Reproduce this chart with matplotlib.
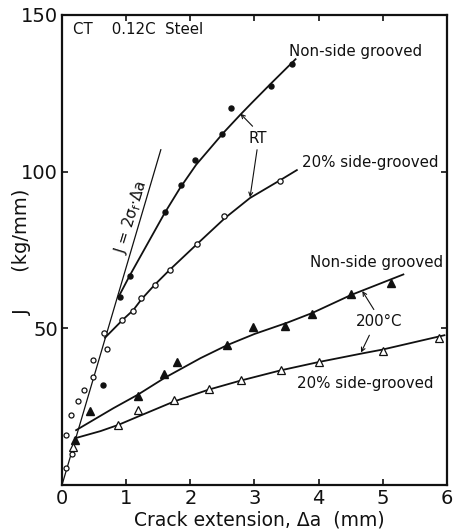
import matplotlib
matplotlib.use("Agg")
import matplotlib.pyplot as plt

plt.rcParams["font.family"] = ["DejaVu Sans"]
INK = "#111111"

# RT, non-side grooved (filled circles)
rt_ns_x = [0.64, 0.90, 1.06, 1.61, 1.85, 2.08, 2.50, 2.64, 3.25, 3.59]
rt_ns_y = [32.0, 60.0, 66.8, 87.0, 95.9, 103.8, 112.0, 120.2, 127.4, 134.5]
rt_ns_fit_x = [0.88, 1.06, 1.60, 1.84, 2.09, 2.52, 2.78, 2.96, 3.25, 3.64]
rt_ns_fit_y = [60.0, 67.0, 86.8, 94.8, 102.2, 112.5, 118.2, 122.0, 128.0, 135.9]

# RT, 20% side grooved (open circles)
rt_sg_x = [0.66, 0.94, 1.11, 1.23, 1.45, 1.68, 2.10, 2.53, 3.40]
rt_sg_y = [48.5, 52.8, 55.4, 59.6, 63.9, 68.7, 76.8, 85.7, 97.1]
rt_sg_fit_x = [0.67, 0.94, 1.11, 1.24, 1.44, 1.68, 2.11, 2.54, 2.93, 3.41, 3.66]
rt_sg_fit_y = [47.0, 52.6, 55.8, 59.3, 63.8, 68.7, 77.0, 85.2, 91.6, 97.4, 100.5]

# blunting-region open circles
blunt_pts_x = [0.07, 0.16, 0.07, 0.14, 0.25, 0.34, 0.48, 0.48, 0.70]
blunt_pts_y = [5.3, 10.0, 16.0, 22.3, 26.8, 30.3, 34.5, 39.8, 43.5]
blunt_line_x = [0.0, 1.54]
blunt_line_y = [0.0, 107.0]

# 200 C, non-side grooved (filled triangles)
h_ns_x = [0.20, 0.44, 1.18, 1.59, 1.79, 2.57, 2.97, 3.48, 3.90, 4.51, 5.12]
h_ns_y = [14.5, 23.6, 28.4, 35.3, 39.1, 44.7, 50.4, 50.6, 54.7, 61.0, 64.6]
h_ns_fit_x = [0.22, 0.80, 1.18, 1.60, 2.16, 2.57, 3.00, 3.51, 3.90, 4.50, 5.32]
h_ns_fit_y = [17.5, 24.5, 28.8, 34.2, 40.5, 44.6, 48.2, 51.8, 54.9, 60.6, 67.2]

# 200 C, 20% side grooved (open triangles)
h_sg_x = [0.17, 0.88, 1.18, 1.74, 2.29, 2.79, 3.41, 4.00, 5.00, 5.87]
h_sg_y = [12.2, 19.3, 23.9, 27.1, 30.5, 33.4, 36.8, 39.1, 42.7, 46.9]
h_sg_fit_x = [0.20, 0.60, 0.88, 1.18, 1.74, 2.28, 2.78, 3.41, 3.99, 4.68, 4.99, 5.96]
h_sg_fit_y = [14.9, 17.2, 19.2, 21.8, 26.6, 30.4, 33.3, 36.6, 39.2, 42.0, 43.2, 47.8]

x_ticks = [0, 1, 2, 3, 4, 5, 6]
y_ticks = [0, 50, 100, 150]
y_tick_labels = ["", "50", "100", "150"]

fig = plt.figure(figsize=(4.56, 5.31), dpi=100)
fig.patch.set_facecolor("white")
ax = fig.add_axes([62 / 456, 46 / 531, 385 / 456, 470 / 531])

lw = 1.3
ax.plot(blunt_line_x, blunt_line_y, color=INK, lw=0.9)
ax.plot(rt_ns_fit_x, rt_ns_fit_y, color=INK, lw=lw)
ax.plot(rt_sg_fit_x, rt_sg_fit_y, color=INK, lw=lw)
ax.plot(h_ns_fit_x, h_ns_fit_y, color=INK, lw=lw)
ax.plot(h_sg_fit_x, h_sg_fit_y, color=INK, lw=lw)

ax.plot(rt_ns_x, rt_ns_y, "o", ms=3.6, color=INK, zorder=4)
ax.plot(rt_sg_x, rt_sg_y, "o", ms=3.8, mfc="white", mec=INK, mew=0.9, zorder=4)
ax.plot(blunt_pts_x, blunt_pts_y, "o", ms=3.6, mfc="white", mec=INK, mew=0.9, zorder=4)
ax.plot(h_ns_x, h_ns_y, "^", ms=6, color=INK, zorder=4)
ax.plot(h_sg_x, h_sg_y, "^", ms=5.5, mfc="white", mec=INK, mew=0.9, zorder=4)

fs = 10.8
ax.text(0.17, 145.5, "CT    0.12C  Steel", fontsize=fs, ha="left", va="center", color=INK)
ax.text(4.58, 138.5, "Non-side grooved", fontsize=fs, ha="center", va="center", color=INK)
ax.text(3.05, 110.5, "RT", fontsize=fs, ha="center", va="center", color=INK)
ax.text(4.81, 102.9, "20% side-grooved", fontsize=fs, ha="center", va="center", color=INK)
ax.text(4.91, 71.0, "Non-side grooved", fontsize=fs, ha="center", va="center", color=INK)
ax.text(4.95, 52.2, "200°C", fontsize=fs, ha="center", va="center", color=INK)
ax.text(4.72, 32.5, "20% side-grooved", fontsize=fs, ha="center", va="center", color=INK)
ax.text(1.07, 85.4, r"J = 2σ$_\mathregular{f}$·Δa", fontsize=fs, rotation=73,
        ha="center", va="center", color=INK)

arrow = dict(arrowstyle="->", color=INK, lw=0.8, shrinkA=0, shrinkB=0,
             mutation_scale=7)
ax.annotate("", xy=(2.78, 118.5), xytext=(2.97, 114.5), arrowprops=arrow)
ax.annotate("", xy=(2.93, 91.8), xytext=(3.04, 107.0), arrowprops=arrow)
ax.annotate("", xy=(4.68, 61.9), xytext=(4.86, 56.0), arrowprops=arrow)
ax.annotate("", xy=(4.66, 42.3), xytext=(4.79, 47.8), arrowprops=arrow)

ax.set_xlim(0, 6)
ax.set_ylim(0, 150)
ax.set_xticks(x_ticks)
ax.set_yticks(y_ticks)
ax.set_yticklabels(y_tick_labels)
ax.tick_params(direction="in", length=4, width=1.2, top=True, right=True,
               labelsize=14, pad=3, colors=INK)
for lab in ax.get_xticklabels() + ax.get_yticklabels():
    lab.set_family(["Liberation Sans Narrow", "DejaVu Sans"])
for sp in ax.spines.values():
    sp.set_linewidth(1.6)
    sp.set_color(INK)

fig.text(259 / 456, 1 - 520 / 531, "Crack extension, Δa  (mm)", fontsize=13.5,
         ha="center", va="center", color=INK)
fig.text(22 / 456, 1 - 252 / 531, "J      (kg/mm)", fontsize=14, rotation=90,
         ha="center", va="center", color=INK)

fig.savefig("out.png", dpi=100, facecolor="white")
